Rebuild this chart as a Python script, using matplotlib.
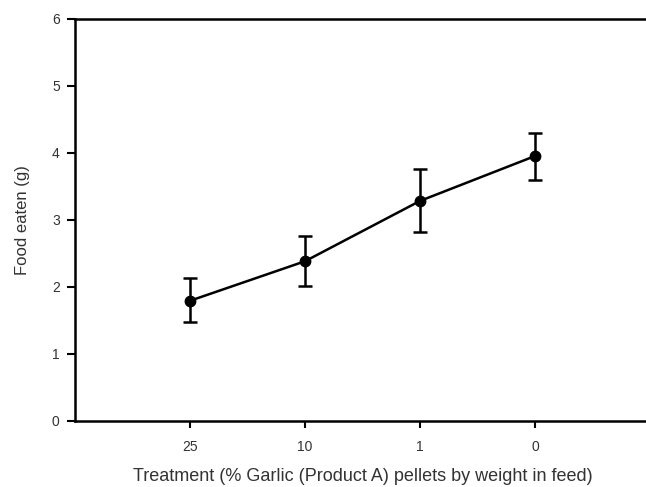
import matplotlib
matplotlib.use("Agg")
import matplotlib.pyplot as plt

categories = ["25", "10", "1", "0"]
food_eaten = [1.79, 2.38, 3.28, 3.95]
err_lower = [0.31, 0.37, 0.47, 0.35]
err_upper = [0.34, 0.37, 0.48, 0.34]

plt.rcParams['font.family'] = ['Liberation Sans', 'DejaVu Sans']

fig = plt.figure(figsize=(6.46, 4.87), dpi=100)
ax = fig.add_axes([0.1161, 0.1361, 0.890, 0.8255])

x = list(range(1, len(categories) + 1))
ax.errorbar(x, food_eaten, yerr=[err_lower, err_upper], color='black',
            marker='o', markersize=7.5, linewidth=1.8, elinewidth=1.8,
            capsize=4.8, capthick=1.8, clip_on=False)

ax.set_xlim(0, 5)
ax.set_ylim(0, 6)
ax.set_xticks(x)
ax.set_xticklabels(categories)
ax.set_yticks(range(0, 7))

for s in ax.spines.values():
    s.set_linewidth(1.8)
ax.tick_params(axis='both', direction='out', width=1.5, colors='black',
               labelcolor='#333333', labelsize=10)
ax.tick_params(axis='y', length=6, pad=5)
ax.tick_params(axis='x', length=5, pad=9)

ax.set_ylabel("Food eaten (g)", fontsize=12, color='#333333', labelpad=16)
ax.set_xlabel("Treatment (% Garlic (Product A) pellets by weight in feed)",
              fontsize=13, color='#333333', labelpad=10)

fig.savefig("out.png", dpi=100)
